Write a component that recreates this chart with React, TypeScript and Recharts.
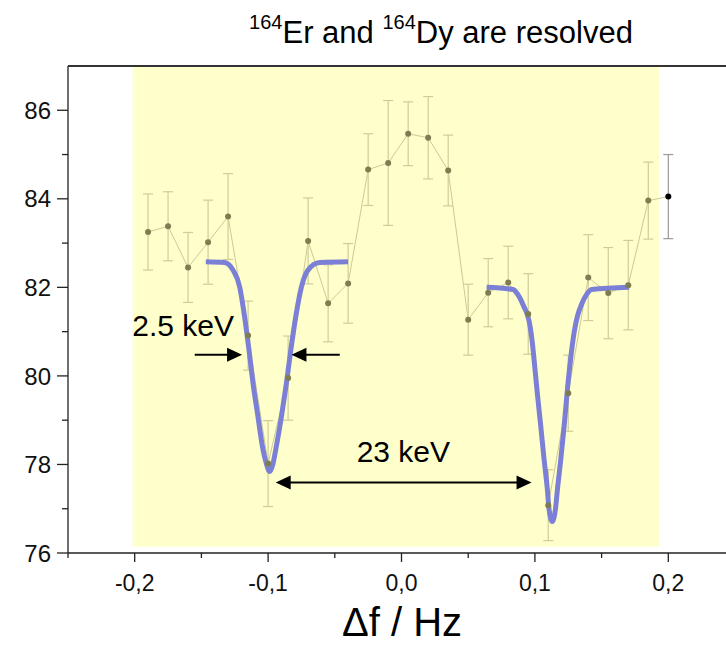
import React from "react";
import {
  ComposedChart,
  Line,
  Scatter,
  ErrorBar,
  XAxis,
  YAxis,
  ReferenceArea,
  ReferenceLine,
  ReferenceDot,
} from "recharts";

// measured points (frequency offset in Hz, signal, 1-sigma error)
const FREQS = [
  -0.19, -0.175, -0.16, -0.145, -0.13, -0.115, -0.1, -0.085, -0.07, -0.055, -0.04, -0.025, -0.01,
  0.005, 0.02, 0.035, 0.05, 0.065, 0.08, 0.095, 0.11, 0.125, 0.14, 0.155, 0.17, 0.185, 0.2,
];
const SIGNAL = [
  83.25, 83.38, 82.45, 83.02, 83.6, 80.91, 78.02, 79.95, 83.05, 81.64, 82.09, 84.66, 84.81,
  85.47, 85.38, 84.64, 81.27, 81.88, 82.11, 81.4, 77.08, 79.61, 82.22, 81.87, 82.05, 83.96, 84.05,
];
const ERRORS = [
  0.86, 0.78, 0.79, 0.95, 0.97, 0.78, 0.97, 0.95, 0.97, 0.87, 0.9, 0.81, 1.41,
  0.72, 0.93, 0.8, 0.8, 0.77, 0.82, 0.91, 0.8, 0.86, 0.97, 1.03, 1.01, 0.87, 0.95,
];

// fitted dips
const FIT_LEFT_X = [
  -0.1467, -0.1326, -0.1263, -0.1213, -0.1176, -0.1143, -0.1113, -0.1076, -0.1038, -0.1013,
  -0.0988, -0.0963, -0.0943, -0.09, -0.0863, -0.083, -0.0793, -0.075, -0.0701, -0.0613, -0.0401,
];
const FIT_LEFT_Y = [
  82.58, 82.56, 82.39, 82.01, 81.33, 80.58, 79.83, 79.08, 78.33, 78.02,
  77.84, 78.02, 78.33, 79.08, 79.83, 80.58, 81.33, 82.01, 82.39, 82.56, 82.58,
];
const FIT_RIGHT_X = [
  0.0638, 0.0837, 0.0867, 0.0912, 0.0962, 0.098, 0.0993, 0.1017, 0.1043, 0.1068, 0.1095, 0.1105,
  0.113, 0.1155, 0.1167, 0.1195, 0.122, 0.1242, 0.1268, 0.1295, 0.132, 0.135, 0.1388, 0.1425, 0.1707,
];
const FIT_RIGHT_Y = [
  82.0, 81.95, 81.86, 81.6, 81.15, 80.77, 80.39, 79.64, 78.89, 78.14, 77.38, 77.01,
  76.71, 77.01, 77.38, 78.14, 78.89, 79.64, 80.39, 81.0, 81.36, 81.62, 81.84, 81.95, 82.0,
];

const X_TICKS = [-0.25, -0.2, -0.15, -0.1, -0.05, 0, 0.05, 0.1, 0.15, 0.2, 0.25];
const X_LABELS = ["-0,2", "-0,1", "0,0", "0,1", "0,2"];
const Y_TICKS = [76, 77, 78, 79, 80, 81, 82, 83, 84, 85, 86];
const Y_LABELS = ["76", "78", "80", "82", "84", "86"];

const points = FREQS.map((x, i) => ({ x, y: SIGNAL[i], err: ERRORS[i] }));
const fitLeft = FIT_LEFT_X.map((x, i) => ({ x, y: FIT_LEFT_Y[i] }));
const fitRight = FIT_RIGHT_X.map((x, i) => ({ x, y: FIT_RIGHT_Y[i] }));

const FONT = '"Liberation Sans", Arial, sans-serif';

function XTick(props: any) {
  const { x, y, payload } = props;
  const tenths = payload.value * 10;
  const idx = Math.round(tenths) + 2;
  const major = Math.abs(tenths - Math.round(tenths)) < 1e-6 && idx >= 0 && idx < X_LABELS.length;
  return (
    <g>
      <line x1={x} x2={x} y1={y} y2={y + (major ? 9 : 5)} stroke="#222" strokeWidth={1.3} />
      {major && (
        <text x={x} y={y + 38} textAnchor="middle" fontSize={23} fontFamily={FONT} fill="#111">
          {X_LABELS[idx]}
        </text>
      )}
    </g>
  );
}

function YTick(props: any) {
  const { x, y, payload } = props;
  const label = String(payload.value);
  const major = Y_LABELS.includes(label);
  return (
    <g>
      <line x1={x - (major ? 11 : 6)} x2={x} y1={y} y2={y} stroke="#222" strokeWidth={1.3} />
      {major && (
        <text x={x - 17} y={y} dy="0.36em" textAnchor="end" fontSize={24} fontFamily={FONT} fill="#111">
          {label}
        </text>
      )}
    </g>
  );
}

function head(tx: number, ty: number, dir: number) {
  const len = 15;
  const hw = 7;
  return `${tx},${ty} ${tx - dir * len},${ty - hw} ${tx - dir * len},${ty + hw}`;
}

function Arrow(props: any) {
  const { x1, y1, x2, y2, both } = props;
  const dir = x2 > x1 ? 1 : -1;
  return (
    <g>
      <line x1={both ? x1 + dir * 12 : x1} y1={y1} x2={x2 - dir * 12} y2={y2} stroke="#000" strokeWidth={2} />
      <polygon points={head(x2, y2, dir)} fill="#000" />
      {both && <polygon points={head(x1, y1, -dir)} fill="#000" />}
    </g>
  );
}

const annText = (text: string, anchor: "start" | "middle") => (p: any) => (
  <text x={p.cx} y={p.cy} textAnchor={anchor} fontSize={30} fontFamily={FONT} fill="#000">
    {text}
  </text>
);

const dot = (fill: string) => (p: any) => <circle cx={p.cx} cy={p.cy} r={3} fill={fill} />;

export default function App() {
  return (
    <div style={{ position: "absolute", left: 0, top: 0, width: 726, height: 647, overflow: "hidden", background: "#fff" }}>
      <ComposedChart
        width={760}
        height={647}
        data={points}
        margin={{ top: 66, right: 25, left: 0, bottom: 54 }}
      >
        <XAxis
          type="number"
          dataKey="x"
          domain={[-0.25, 0.25]}
          ticks={X_TICKS}
          interval={0}
          tick={<XTick />}
          tickLine={false}
          tickSize={0}
          tickMargin={0}
          height={40}
          axisLine={{ stroke: "#222", strokeWidth: 1.3 }}
          allowDataOverflow
        />
        <YAxis
          type="number"
          dataKey="y"
          domain={[76, 87]}
          ticks={Y_TICKS}
          interval={0}
          tick={<YTick />}
          tickLine={false}
          tickSize={0}
          tickMargin={0}
          width={68}
          axisLine={{ stroke: "#222", strokeWidth: 1.3 }}
          allowDataOverflow
        />
        <ReferenceArea x1={-0.2015} x2={0.193} y1={76.14} y2={87} fill="#ffffcc" fillOpacity={1} stroke="none" />
        <ReferenceLine y={87} stroke="#333" strokeWidth={2} />
        <Line
          dataKey="y"
          stroke="#cdc995"
          strokeWidth={1}
          dot={false}
          activeDot={false}
          isAnimationActive={false}
        />
        <Scatter data={points.slice(0, 26)} dataKey="y" shape={dot("#7e7c50")} isAnimationActive={false}>
          <ErrorBar dataKey="err" direction="y" width={5} stroke="#d0cc98" strokeWidth={1.2} isAnimationActive={false} />
        </Scatter>
        <Scatter data={points.slice(26)} dataKey="y" shape={dot("#000")} isAnimationActive={false}>
          <ErrorBar dataKey="err" direction="y" width={5} stroke="#9a9a9a" strokeWidth={1.2} isAnimationActive={false} />
        </Scatter>
        <Line
          data={fitLeft}
          dataKey="y"
          type="monotone"
          stroke="#7b80d6"
          strokeWidth={5}
          dot={false}
          activeDot={false}
          isAnimationActive={false}
        />
        <Line
          data={fitRight}
          dataKey="y"
          type="monotone"
          stroke="#7b80d6"
          strokeWidth={5}
          dot={false}
          activeDot={false}
          isAnimationActive={false}
        />
        <ReferenceLine segment={[{ x: -0.155, y: 80.48 }, { x: -0.1195, y: 80.48 }]} shape={<Arrow />} />
        <ReferenceLine segment={[{ x: -0.0463, y: 80.48 }, { x: -0.0825, y: 80.48 }]} shape={<Arrow />} />
        <ReferenceLine segment={[{ x: -0.0943, y: 77.59 }, { x: 0.0975, y: 77.59 }]} shape={<Arrow both />} />
        <ReferenceDot x={-0.2018} y={80.9} r={1} shape={annText("2.5 keV", "start")} />
        <ReferenceDot x={0.0014} y={78.06} r={1} shape={annText("23 keV", "middle")} />
      </ComposedChart>
      <svg width={726} height={647} style={{ position: "absolute", left: 0, top: 0, pointerEvents: "none" }}>
        <text x={441} y={43} textAnchor="middle" fontSize={31} fontFamily={FONT} fill="#000">
          <tspan fontSize={20} dy={-14}>164</tspan>
          <tspan dy={14}>Er and </tspan>
          <tspan fontSize={20} dy={-14}>164</tspan>
          <tspan dy={14}>Dy are resolved</tspan>
        </text>
        <text x={402} y={636} textAnchor="middle" fontSize={40} fontFamily={FONT} fill="#000">
          Δf / Hz
        </text>
      </svg>
    </div>
  );
}
